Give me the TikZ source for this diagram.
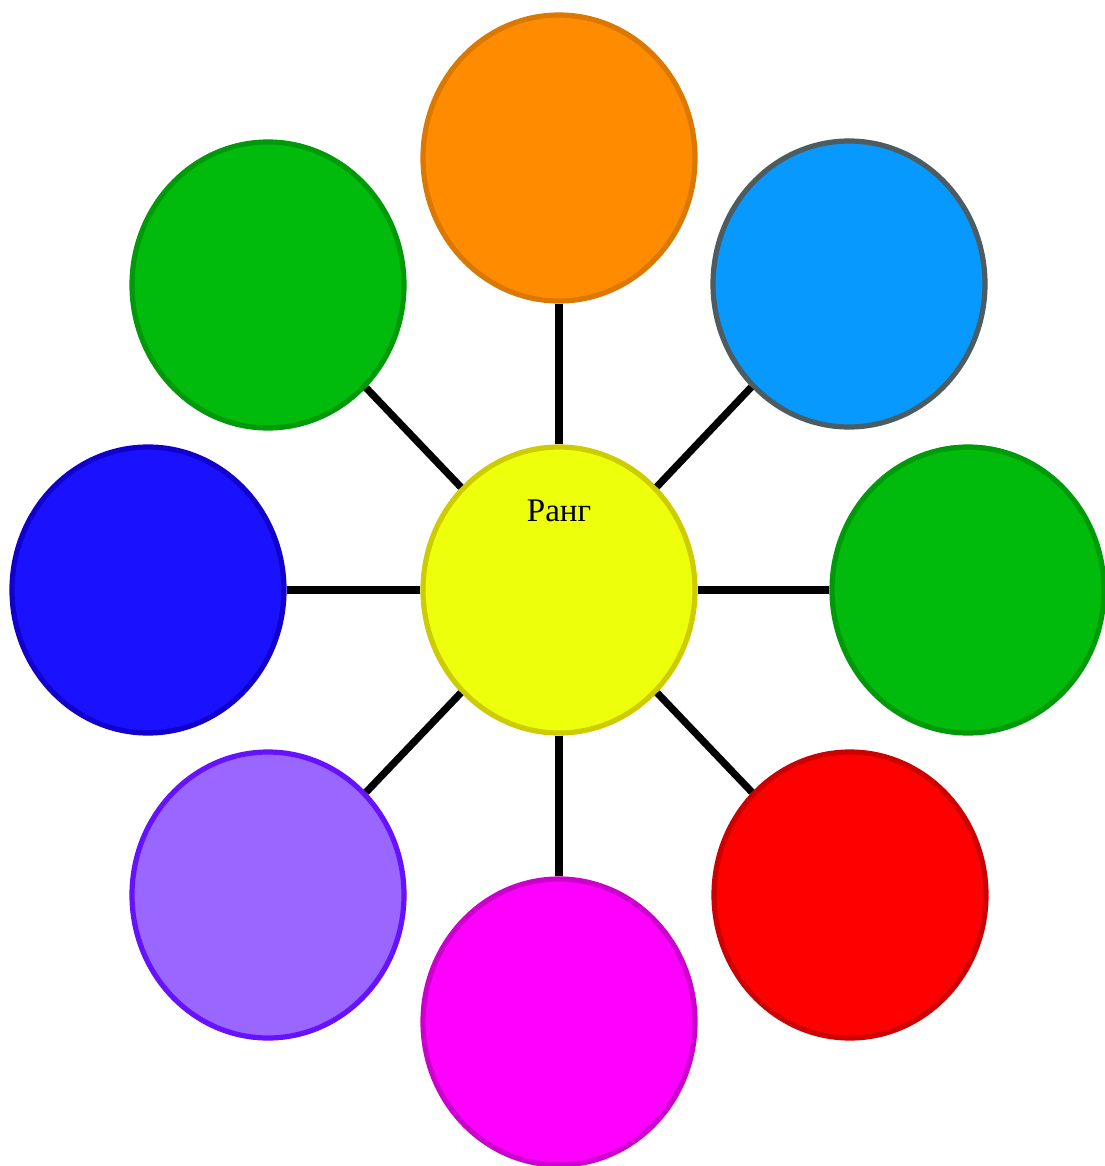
\documentclass[tikz,border=0pt]{standalone}
\usepackage{fontspec}
\setmainfont{Liberation Serif}
\usetikzlibrary{shapes.geometric}
\definecolor{orfill}{HTML}{FF8C00}\definecolor{ordraw}{HTML}{DB7800}
\definecolor{bufill}{HTML}{0899FF}\definecolor{budraw}{HTML}{4D5C60}
\definecolor{grfill}{HTML}{00BB0C}\definecolor{grdraw}{HTML}{00990A}
\definecolor{rdfill}{HTML}{FF0000}\definecolor{rddraw}{HTML}{CC0000}
\definecolor{mgfill}{HTML}{FF00FF}\definecolor{mgdraw}{HTML}{CC00CC}
\definecolor{pufill}{HTML}{9966FF}\definecolor{pudraw}{HTML}{6611FF}
\definecolor{blfill}{HTML}{1A12FF}\definecolor{bldraw}{HTML}{1100CC}
\definecolor{yefill}{HTML}{EEFF0C}\definecolor{yedraw}{HTML}{CCCC00}
\tikzset{
  blob/.style={ellipse, line width=2.6pt, minimum width=136pt, minimum height=143pt, inner sep=0pt},
  spoke/.style={line width=3.6pt, black}
}
\begin{document}
\begin{tikzpicture}[x=0.5pt,y=-0.5pt]
\useasboundingbox (0,0) rectangle (1104,1166);
\node[blob, fill=yefill, draw=yedraw] (c) at (559,590) {};
\node[blob, fill=orfill, draw=ordraw] (n) at (559,158) {};
\node[blob, fill=bufill, draw=budraw] (ne) at (849,284) {};
\node[blob, fill=grfill, draw=grdraw] (e) at (968,590) {};
\node[blob, fill=rdfill, draw=rddraw] (se) at (850,895) {};
\node[blob, fill=mgfill, draw=mgdraw] (s) at (559,1022) {};
\node[blob, fill=pufill, draw=pudraw] (sw) at (268,895) {};
\node[blob, fill=blfill, draw=bldraw] (w) at (148,590) {};
\node[blob, fill=grfill, draw=grdraw] (nw) at (268,285) {};
\foreach \t in {n,ne,e,se,s,sw,w,nw}{\draw[spoke] (c) -- (\t);}
\node[font=\fontsize{16.5pt}{19pt}\selectfont] (lbl) at (559,511) {Ранг};
\end{tikzpicture}
\end{document}
